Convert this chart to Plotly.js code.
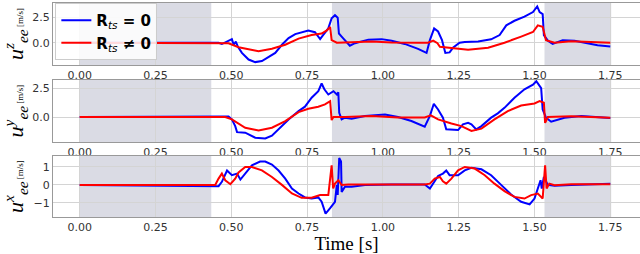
<!DOCTYPE html>
<html>
<head>
<meta charset="utf-8">
<script src="https://cdn.plot.ly/plotly-3.0.1.min.js"></script>
<style>html,body{margin:0;padding:0;background:#fff;}#chart{width:640px;height:254px;}</style>
</head>
<body>
<div id="chart"></div>
<script>
// ---- data (time in s, velocity in m/s) ----
const zT_blue = [0,0.458,0.469,0.486,0.502,0.508,0.515,0.522,0.535,0.557,0.579,0.601,0.623,0.645,0.667,0.689,0.711,0.732,0.754,0.776,0.793,0.804,0.820,0.831,0.842,0.851,0.855,0.864,0.875,0.891,0.908,0.952,0.996,1.029,1.072,1.116,1.144,1.155,1.169,1.182,1.195,1.206,1.220,1.231,1.253,1.270,1.314,1.357,1.385,1.407,1.434,1.467,1.495,1.509,1.517,1.527,1.531,1.544,1.560,1.593,1.632,1.676,1.708,1.750];
const zV_blue = [0,0,-0.13,0.1,0.35,-0.2,0.1,-0.4,-1.0,-1.65,-1.9,-1.8,-1.4,-1.0,-0.2,0.45,0.84,1.03,1.2,1.03,0.36,0.8,1.4,2.4,2.7,2.45,0.9,0.6,0.25,-0.3,-0.05,0.3,0.35,0.2,-0.12,-0.6,-1.0,0.25,1.4,1.1,0.25,-1.0,-0.95,-0.5,0.0,0.07,0.12,0.33,0.75,1.7,2.15,2.55,3.0,3.55,3.0,2.8,0.75,0.2,-0.12,0.25,0.2,-0.05,-0.25,-0.36];
const zT_red = [0,0.458,0.475,0.491,0.524,0.590,0.634,0.678,0.722,0.765,0.798,0.815,0.826,0.831,0.848,0.875,0.897,0.963,1.029,1.116,1.149,1.166,1.180,1.188,1.226,1.281,1.347,1.401,1.456,1.495,1.511,1.527,1.538,1.566,1.621,1.686,1.750];
const zV_red = [0,0,0.0,-0.05,-0.45,-0.83,-0.6,-0.2,0.4,0.75,0.9,1.2,1.55,0.25,0,0,0.05,0.13,0.03,0,0,0.2,-0.05,-0.4,-0.55,-0.7,-0.5,0,0.6,1.05,1.7,1.55,0.25,0,0.15,0.05,0];

const yT_blue = [0,0.480,0.491,0.502,0.513,0.519,0.546,0.579,0.612,0.634,0.656,0.689,0.722,0.743,0.765,0.787,0.798,0.807,0.820,0.837,0.848,0.853,0.856,0.864,0.875,0.897,0.941,1.007,1.050,1.094,1.138,1.155,1.168,1.182,1.198,1.209,1.248,1.264,1.281,1.292,1.308,1.325,1.357,1.379,1.401,1.434,1.467,1.495,1.506,1.522,1.527,1.538,1.555,1.599,1.654,1.708,1.750];
const yV_blue = [0,0,0.05,-0.2,-0.78,-1.3,-1.35,-1.78,-1.85,-1.6,-1.06,-0.2,0.52,0.9,1.67,2.24,2.9,2.4,1.95,2.24,1.95,2.15,0.37,-0.2,-0.05,-0.15,0.1,0.23,0,-0.34,-0.83,0.1,1.15,0.66,-0.05,-1.06,-1.12,-0.63,-0.5,-0.63,-1.06,-0.78,-0.05,0.32,0.8,1.67,2.4,2.8,3.1,2.5,0.66,-0.05,-0.4,-0.05,0.1,-0.03,-0.08];
const yT_red = [0,0.480,0.502,0.546,0.590,0.634,0.678,0.722,0.754,0.787,0.809,0.826,0.831,0.837,0.875,0.963,1.050,1.138,1.158,1.182,1.226,1.259,1.292,1.325,1.368,1.412,1.456,1.500,1.517,1.531,1.535,1.544,1.621,1.750];
const yV_red = [0,0,-0.2,-0.92,-1.15,-0.92,-0.34,0.43,0.72,0.9,1.1,1.38,-0.26,0,0,0.1,-0.03,-0.03,0.15,-0.2,-0.55,-0.78,-1.2,-1.0,-0.2,0.52,1.0,1.18,1.38,1.24,-0.5,0,0.08,-0.05];

const xT_blue = [0,0.458,0.469,0.486,0.502,0.519,0.530,0.546,0.568,0.595,0.612,0.634,0.656,0.678,0.700,0.722,0.743,0.765,0.787,0.798,0.811,0.826,0.842,0.848,0.851,0.856,0.862,0.864,0.875,0.897,0.941,1.029,1.138,1.155,1.171,1.182,1.198,1.209,1.220,1.248,1.270,1.292,1.325,1.357,1.390,1.423,1.456,1.484,1.500,1.511,1.520,1.524,1.531,1.544,1.566,1.621,1.750];
const xV_blue = [0,-0.07,0.17,0.8,0.54,0.63,0.3,0.63,1.09,1.3,1.3,1.13,0.8,0.35,-0.2,-0.48,-0.7,-0.76,-0.7,-0.94,-1.6,-1.3,-0.94,0,-0.56,1.5,1.3,-0.39,-0.1,-0.1,0,0.02,0.02,-0.2,0.2,0.5,0.63,0.8,0.54,0.54,0.81,0.95,0.87,0.54,0,-0.54,-0.94,-1.09,-0.76,-0.2,0.26,-0.2,0.44,0,-0.05,0,0.07];
const xT_red = [0,0.447,0.458,0.469,0.480,0.497,0.513,0.524,0.546,0.568,0.601,0.634,0.667,0.700,0.732,0.765,0.793,0.820,0.831,0.836,0.842,0.853,0.864,0.886,0.963,1.138,1.155,1.171,1.188,1.198,1.209,1.226,1.248,1.270,1.303,1.336,1.368,1.401,1.434,1.467,1.489,1.511,1.527,1.535,1.540,1.549,1.566,1.621,1.750];
const xV_red = [0,0,0.35,0.63,0.26,0.04,0.35,0.69,1.0,1.0,0.81,0.44,0,-0.48,-0.72,-0.72,-0.57,-0.57,1.09,-0.2,0.07,0.26,0,0.02,0.02,0.02,0.07,0.35,0.44,0.2,0.07,0.35,0.81,1.0,0.91,0.54,0.07,-0.35,-0.67,-0.76,-0.57,-0.48,-0.76,1.09,-0.2,0.07,-0.02,0.04,0.04];

// shaded phases [start, end] in s
const phases = [[0, 0.434], [0.832, 1.158], [1.533, 1.753]];

const xTicks = [0, 0.25, 0.5, 0.75, 1.0, 1.25, 1.5, 1.75];
const legendNames = ['<b>R</b><sub><i>ts</i></sub><b> = 0</b>', '<b>R</b><sub><i>ts</i></sub><b> \u2260 0</b>'];
const yTitles = ['z', 'y', 'x'];

const BLUE = '#0000ff', RED = '#ff0000';
const panels = [
  {bt: zT_blue, bv: zV_blue, rt: zT_red, rv: zV_red, range: [-2.19, 3.89], ticks: [-2.5, 0, 2.5], fmt: '.1f', dom: [0.710, 1]},
  {bt: yT_blue, bv: yV_blue, rt: yT_red, rv: yV_red, range: [-2.16, 3.2], ticks: [-2.5, 0, 2.5], fmt: '.1f', dom: [0.350, 0.640]},
  {bt: xT_blue, bv: xV_blue, rt: xT_red, rv: xV_red, range: [-1.79, 1.61], ticks: [-1, 0, 1], fmt: 'd', dom: [0, 0.285]}
];

const traces = [];
const layout = {
  width: 640, height: 254,
  margin: {l: 53, r: 0, t: 3, b: 37},
  paper_bgcolor: '#fff', plot_bgcolor: '#fff',
  font: {family: 'DejaVu Sans', size: 11, color: '#333'},
  showlegend: true,
  legend: {x: 0.004, y: 1, xanchor: 'left', yanchor: 'top', bgcolor: 'rgba(255,255,255,0.85)',
           bordercolor: '#cccccc', borderwidth: 1, font: {size: 15, color: '#000', family: 'DejaVu Sans'},
           tracegroupgap: 0, itemwidth: 30},
  shapes: []
};

panels.forEach((p, i) => {
  const n = i === 0 ? '' : String(i + 1);
  traces.push({x: p.bt, y: p.bv, type: 'scatter', mode: 'lines', line: {color: BLUE, width: 2},
    xaxis: 'x' + n, yaxis: 'y' + n, name: legendNames[0], showlegend: i === 0});
  traces.push({x: p.rt, y: p.rv, type: 'scatter', mode: 'lines', line: {color: RED, width: 2},
    xaxis: 'x' + n, yaxis: 'y' + n, name: legendNames[1], showlegend: i === 0});
  layout['xaxis' + n] = {
    domain: [0, 1], range: [-0.088, 1.848], anchor: 'y' + n,
    tickvals: xTicks, tickformat: '.2f', showgrid: true, gridcolor: '#d4d4d4', gridwidth: 1,
    zeroline: false, showline: true, linecolor: '#999', linewidth: 1, mirror: true,
    ticks: '', ticklen: 0, tickfont: {size: 11, color: '#333'}
  };
  layout['yaxis' + n] = {
    domain: p.dom, range: p.range, anchor: 'x' + n,
    tickvals: p.ticks, tickformat: p.fmt, showgrid: true, gridcolor: '#d4d4d4', gridwidth: 1,
    zeroline: false, showline: true, linecolor: '#999', linewidth: 1, mirror: true,
    ticks: '', tickfont: {size: 11, color: '#333'},
    title: {text: '<i>u</i><sup><i>' + yTitles[i] + '</i></sup><sub><i>ee</i></sub><span style="font-size:9px"> [m/s]</span>',
            font: {family: 'Liberation Serif', size: 22, color: '#000'}, standoff: 4}
  };
  phases.forEach(ph => {
    layout.shapes.push({type: 'rect', xref: 'x' + n, yref: 'y' + n + ' domain', x0: ph[0], x1: ph[1], y0: 0, y1: 1,
      fillcolor: '#dadbe4', line: {width: 0}, layer: 'below'});
  });
});

layout.xaxis3.title = {text: 'Time [s]', font: {family: 'Liberation Serif', size: 19, color: '#000'}, standoff: 4};

Plotly.newPlot('chart', traces, layout, {displayModeBar: false, staticPlot: true});
</script>
</body>
</html>
